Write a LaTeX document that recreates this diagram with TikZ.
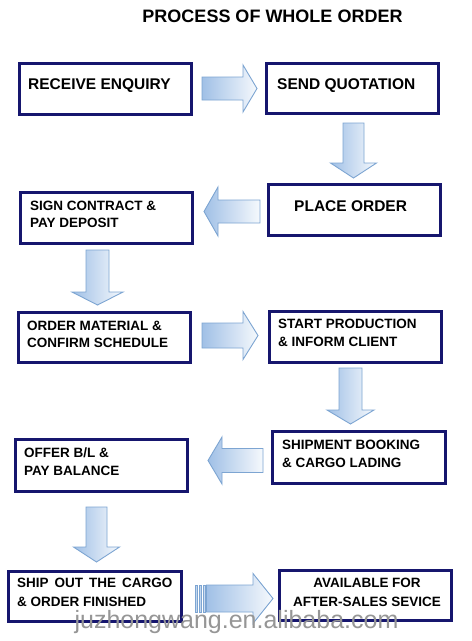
\documentclass[tikz,border=0pt]{standalone}
\usepackage{fontspec}
\setmainfont{Liberation Sans}
\definecolor{boxnavy}{RGB}{22,22,110}
\definecolor{arrowline}{RGB}{125,165,210}
\definecolor{arrowfill}{RGB}{160,192,230}
\definecolor{wmgray}{RGB}{150,150,150}
\begin{document}
\begin{tikzpicture}[x=1pt,y=-1pt,
  box/.style={draw=boxnavy, line width=2.6pt, fill=white, inner sep=0pt},
  bigtext/.style={font=\fontsize{15.5}{19}\selectfont\bfseries, inner sep=0pt, anchor=west, align=left},
  smalltext/.style={font=\fontsize{13.5}{17.5}\selectfont\bfseries, inner sep=0pt, anchor=west, align=left},
  blockarrow/.style={draw=arrowline, line width=0.9pt, left color=arrowfill, right color=arrowfill!10, line join=miter}]
\useasboundingbox (0,0) rectangle (472,641);
\fill[white] (0,0) rectangle (472,641);

% title
\node[font=\fontsize{18}{22}\selectfont\bfseries, inner sep=0pt, anchor=base] (title) at (272.5,22.5) {PROCESS OF WHOLE ORDER};

% boxes
\node[box, minimum width=172.5pt, minimum height=51.5pt] (b1) at (105.5,89) {};
\node[box, minimum width=172.5pt, minimum height=50.5pt] (b2) at (352.5,88.5) {};
\node[box, minimum width=172.5pt, minimum height=51.5pt] (b3) at (354.5,210) {};
\node[box, minimum width=172.5pt, minimum height=51.5pt] (b4) at (106.5,218) {};
\node[box, minimum width=172.5pt, minimum height=50.5pt] (b5) at (104.5,337.5) {};
\node[box, minimum width=172.5pt, minimum height=51.5pt] (b6) at (355.5,337) {};
\node[box, minimum width=173.5pt, minimum height=52.5pt] (b7) at (359,457.5) {};
\node[box, minimum width=172.5pt, minimum height=52.5pt] (b8) at (101.5,465.5) {};
\node[box, minimum width=173.5pt, minimum height=50.5pt] (b9) at (95,596.5) {};
\node[box, minimum width=172.5pt, minimum height=50.5pt] (b10) at (365.5,595.5) {};

% texts
\node[bigtext] (t1) at (28,86) {RECEIVE ENQUIRY};
\node[bigtext] (t2) at (277,85.5) {SEND QUOTATION};
\node[bigtext] (t3) at (294,206) {PLACE ORDER};
\node[smalltext] (t4) at (30,214.5) {SIGN CONTRACT \&\\PAY DEPOSIT};
\node[smalltext] (t5) at (27,334.5) {ORDER MATERIAL \&\\CONFIRM SCHEDULE};
\node[smalltext, font=\fontsize{13.5}{18}\selectfont\bfseries] (t6) at (278,333) {START PRODUCTION\\\& INFORM CLIENT};
\node[smalltext, font=\fontsize{13.5}{18}\selectfont\bfseries] (t7) at (282,454) {SHIPMENT BOOKING\\\& CARGO LADING};
\node[smalltext] (t8) at (24,461.5) {OFFER B/L \&\\PAY BALANCE};
\node[smalltext, font=\fontsize{13.5}{18.5}\selectfont\bfseries] (t9) at (17,592.5) {SHIP~\,OUT~\,THE~\,CARGO\\\& ORDER FINISHED};
\node[smalltext, font=\fontsize{13.5}{18.5}\selectfont\bfseries, anchor=center, align=center] (t10) at (367,592.5) {AVAILABLE FOR\\AFTER-SALES SEVICE};

% block arrows
\draw[blockarrow] (202,77) -- (243,77) -- (243,65) -- (257,88.5) -- (243,112) -- (243,100) -- (202,100) -- cycle;
\draw[blockarrow] (343,123) -- (343,163) -- (330.5,163) -- (353.5,178) -- (376.5,163) -- (364,163) -- (364,123) -- cycle;
\draw[blockarrow] (260,200) -- (218,200) -- (218,187) -- (204,211.5) -- (218,236) -- (218,223) -- (260,223) -- cycle;
\draw[blockarrow] (86,250) -- (86,292) -- (72,292) -- (97.5,305) -- (123,292) -- (109,292) -- (109,250) -- cycle;
\draw[blockarrow] (202,323) -- (243,323) -- (243,311.5) -- (258,335.5) -- (243,359.5) -- (243,348) -- (202,348) -- cycle;
\draw[blockarrow] (339,368) -- (339,410) -- (327,410) -- (350.5,424) -- (374,410) -- (362,410) -- (362,368) -- cycle;
\draw[blockarrow] (263,448.5) -- (222,448.5) -- (222,437) -- (208,460.5) -- (222,484) -- (222,472.5) -- (263,472.5) -- cycle;
\draw[blockarrow] (86,507) -- (86,547) -- (73.5,547) -- (96.5,562) -- (119.5,547) -- (107,547) -- (107,507) -- cycle;
\draw[blockarrow] (195,585) rectangle (197.5,612);
\draw[blockarrow] (199,585) rectangle (201.5,612);
\draw[blockarrow] (203,585) rectangle (205,612);
\draw[blockarrow] (206.5,585) -- (253,585) -- (253,573.5) -- (273,598.5) -- (253,623.5) -- (253,612) -- (206.5,612) -- cycle;

% watermark
\node[font=\fontsize{25}{28}\selectfont, text=wmgray, inner sep=0pt, anchor=base] (wm) at (236.5,628) {juzhongwang.en.alibaba.com};
\end{tikzpicture}
\end{document}
